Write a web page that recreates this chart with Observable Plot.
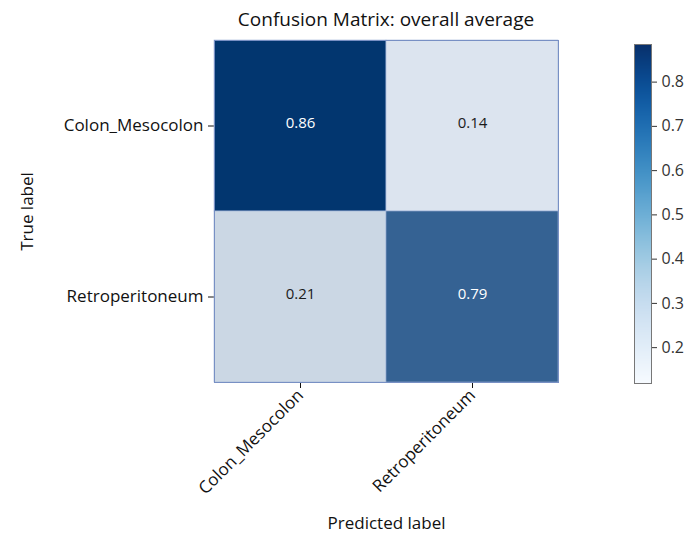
<!DOCTYPE html>
<html>
<head>
<meta charset="utf-8">
<script src="https://cdn.jsdelivr.net/npm/d3@7"></script>
<script src="https://cdn.jsdelivr.net/npm/@observablehq/plot@0.6"></script>
<style>
  html, body { margin: 0; padding: 0; background: #fff; }
  #wrap { position: relative; width: 687px; height: 541px; font-family: "Open Sans", sans-serif; }
  #wrap svg { position: absolute; top: 0; }
  #title { position: absolute; left: 186px; width: 400px; top: 6px; text-align: center; font-size: 19px; color: #111; }
</style>
</head>
<body>
<div id="wrap"><div id="title">Confusion Matrix: overall average</div></div>
<script>
const title = "Confusion Matrix: overall average";
const classes = ["Colon_Mesocolon", "Retroperitoneum"];
const trueLabels =      ["Colon_Mesocolon", "Colon_Mesocolon", "Retroperitoneum", "Retroperitoneum"];
const predictedLabels = ["Colon_Mesocolon", "Retroperitoneum", "Colon_Mesocolon", "Retroperitoneum"];
const values = [0.86, 0.14, 0.21, 0.79];
const colorbarTicks = [0.2, 0.3, 0.4, 0.5, 0.6, 0.7, 0.8];
const colorbarDomain = [0.119, 0.885];

const cells = values.map((v, i) => ({truth: trueLabels[i], pred: predictedLabels[i], value: v}));
const font = "Open Sans, sans-serif";

const main = Plot.plot({
  width: 600,
  height: 541,
  marginLeft: 214,
  marginRight: 42,
  marginTop: 40,
  marginBottom: 159,
  style: {fontFamily: font, fontSize: "17px", color: "#111", background: "transparent"},
  x: {domain: classes, padding: 0, label: "Predicted label", labelAnchor: "center", labelArrow: "none", labelOffset: 146, tickRotate: -45, tickSize: 6, tickPadding: 4},
  y: {domain: classes, padding: 0, label: "True label", labelAnchor: "center", labelArrow: "none", labelOffset: 194, tickSize: 6, tickPadding: 5},
  color: {type: "linear", domain: [0.14, 0.21, 0.79, 0.86], range: ["#dce4ef", "#cbd7e4", "#356293", "#02366f"]},
  marks: [
    Plot.cell(cells, {x: "pred", y: "truth", fill: "value", stroke: "#9fb2d6", strokeWidth: 0.6}),
    Plot.text(cells, {x: "pred", y: "truth", text: d => d.value.toFixed(2), fill: d => d.value > 0.5 ? "white" : "#1a1a1a", fontSize: 15, dy: -3}),
    Plot.frame({stroke: "#7890c4", strokeWidth: 1})
  ]
});
main.style.left = "0px";

const cbar = Plot.plot({
  width: 87,
  height: 541,
  marginLeft: 34,
  marginRight: 36,
  marginTop: 44,
  marginBottom: 158,
  style: {fontFamily: font, fontSize: "16px", color: "#333", background: "transparent"},
  x: {domain: [0, 1], axis: null},
  y: {domain: colorbarDomain, axis: "right", ticks: colorbarTicks, tickFormat: ".1f", tickSize: 5, tickPadding: 5, label: null},
  color: {type: "linear", scheme: "blues", domain: colorbarDomain},
  marks: [
    Plot.raster({x1: 0, x2: 1, y1: colorbarDomain[0], y2: colorbarDomain[1], width: 1, height: 340, fill: (x, y) => y, imageRendering: "auto"}),
    Plot.frame({stroke: "#777", strokeWidth: 1})
  ]
});
cbar.style.left = "600px";

const wrap = document.getElementById("wrap");
wrap.appendChild(main);
wrap.appendChild(cbar);
</script>
</body>
</html>
